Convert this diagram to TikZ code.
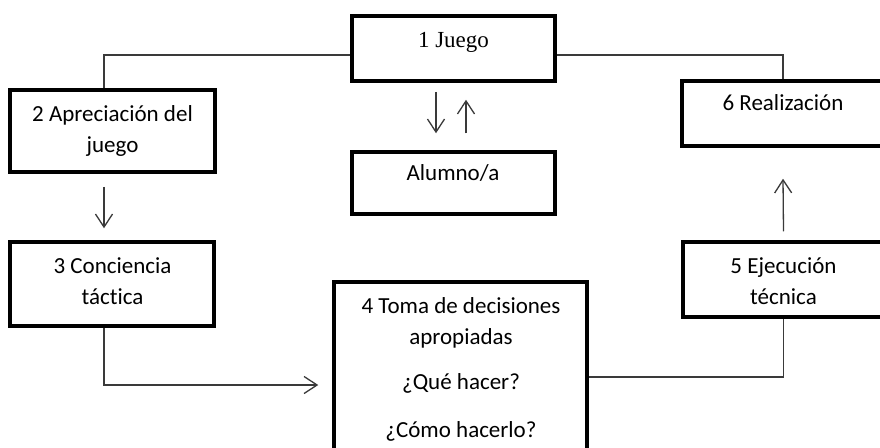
\documentclass[tikz,border=0pt]{standalone}
\usepackage{fontspec}
\newfontfamily\calib[Ligatures={NoCommon,NoRare}]{Carlito}
\newfontfamily\tnr{Liberation Serif}
\usetikzlibrary{arrows.meta}
\definecolor{conn}{HTML}{3A3A3A}
\tikzset{
  box/.style={draw=black, line width=3.5pt, rectangle, inner sep=0pt},
  lbl/.style={anchor=base, inner sep=0pt, font=\calib\fontsize{23}{28}\selectfont},
  serif/.style={anchor=base, inner sep=0pt, font=\tnr\fontsize{23}{27}\selectfont},
  conline/.style={draw=conn, line width=1.3pt},
  arr/.style={conline, -{Straight Barb[length=13pt,width=17pt,line width=1.3pt]}}
}
\begin{document}
\begin{tikzpicture}[x=1pt,y=-1pt]
\useasboundingbox (0,0) rectangle (880,447);
\clip (0,0) rectangle (880,447);
\fill[white] (0,0) rectangle (880,447);
% boxes
\node[box, minimum width=203pt, minimum height=65pt] (b1) at (453.5,48.5) {};
\node[box, minimum width=205pt, minimum height=82pt] (b2) at (112.5,131) {};
\node[box, minimum width=204pt, minimum height=84pt] (b3) at (112,284) {};
\node[box, minimum width=253pt, minimum height=178pt] (b4) at (460.5,371) {};
\node[box, minimum width=201pt, minimum height=75pt] (b5) at (783.5,279.5) {};
\node[box, minimum width=202pt, minimum height=65pt] (b6) at (783,113.5) {};
\node[box, minimum width=203pt, minimum height=62pt] (al) at (453.5,183) {};
% texts
\node[serif] (t1) at (453.5,47) {1 Juego};
\node[lbl] (t2a) at (112.5,121) {2 Apreciación del};
\node[lbl] (t2b) at (112.5,152) {juego};
\node[lbl] (t3a) at (112.5,273) {3 Conciencia};
\node[lbl] (t3b) at (112.5,304) {táctica};
\node[lbl] (t4a) at (461,313) {4 Toma de decisiones};
\node[lbl] (t4b) at (461,344) {apropiadas};
\node[lbl] (t4c) at (461,389) {¿Qué hacer?};
\node[lbl] (t4d) at (461,437) {¿Cómo hacerlo?};
\node[lbl] (t5a) at (783.5,273) {5 Ejecución};
\node[lbl] (t5b) at (783.5,304) {técnica};
\node[lbl] (t6) at (783,110) {6 Realización};
\node[lbl] (tal) at (453,180) {Alumno/a};
% connectors
\draw[conline] ([yshift=-6.5pt]b1.west) -| ([xshift=-8.5pt]b2.north);
\draw[conline] ([yshift=-6.5pt]b1.east) -| (b6.north);
\draw[arr] ([xshift=-17.5pt,yshift=-9pt]b1.south) -- ([xshift=-17.5pt,yshift=17pt]al.north);
\draw[arr] ([xshift=12.5pt,yshift=17pt]al.north) -- ([xshift=12.5pt,yshift=-17pt]b1.south);
\draw[arr] ([xshift=-8.5pt,yshift=-13pt]b2.south) -- ([xshift=-8pt,yshift=12pt]b3.north);
\draw[arr] ([xshift=-8pt]b3.south) |- ([xshift=-14pt,yshift=-14pt]b4.west);
\draw[conline] ([yshift=-6pt]b4.east) -| (b5.south);
\draw[arr] ([yshift=9pt]b5.north) -- ([yshift=-31pt]b6.south);
\end{tikzpicture}
\end{document}
